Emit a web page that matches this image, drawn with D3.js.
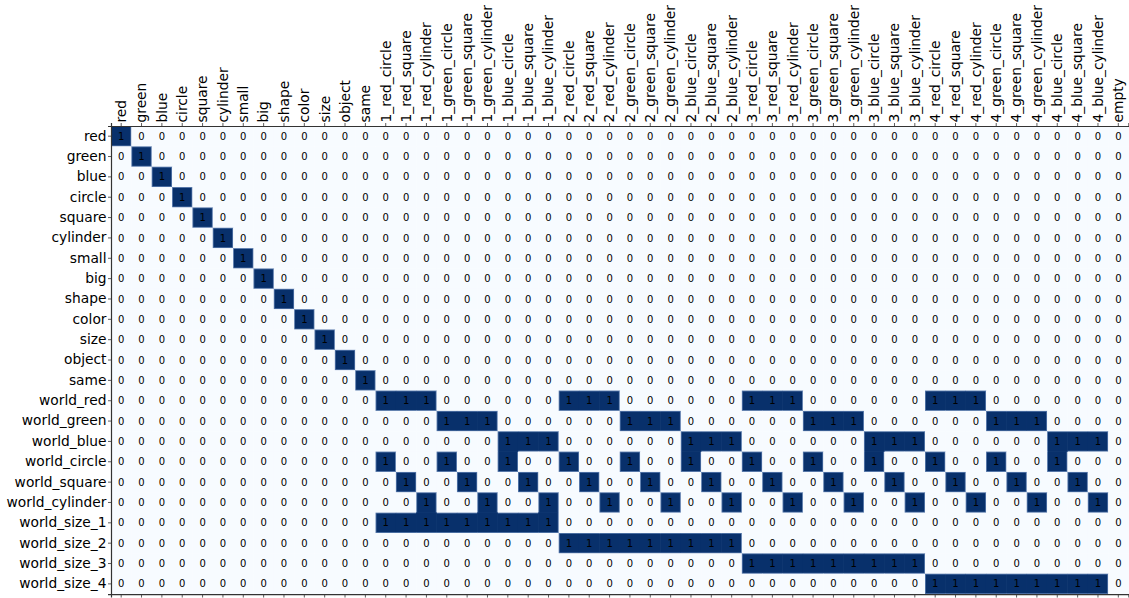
<!DOCTYPE html>
<html>
<head>
<meta charset="utf-8">
<script src="https://cdn.jsdelivr.net/npm/d3@7"></script>
<style>
  html, body { margin: 0; padding: 0; background: #ffffff; }
  svg { display: block; }
  text { font-family: "DejaVu Sans", sans-serif; }
</style>
</head>
<body>
<div id="chart"></div>
<script>
// Row labels (concepts) and column labels (tokens / objects)
const rowLabels = [
  "red", "green", "blue", "circle", "square", "cylinder", "small", "big",
  "shape", "color", "size", "object", "same",
  "world_red", "world_green", "world_blue", "world_circle", "world_square",
  "world_cylinder", "world_size_1", "world_size_2", "world_size_3", "world_size_4"
];

const colLabels = [
  "red", "green", "blue", "circle", "square", "cylinder", "small", "big",
  "shape", "color", "size", "object", "same",
  "1_red_circle", "1_red_square", "1_red_cylinder", "1_green_circle", "1_green_square", "1_green_cylinder", "1_blue_circle", "1_blue_square", "1_blue_cylinder",
  "2_red_circle", "2_red_square", "2_red_cylinder", "2_green_circle", "2_green_square", "2_green_cylinder", "2_blue_circle", "2_blue_square", "2_blue_cylinder",
  "3_red_circle", "3_red_square", "3_red_cylinder", "3_green_circle", "3_green_square", "3_green_cylinder", "3_blue_circle", "3_blue_square", "3_blue_cylinder",
  "4_red_circle", "4_red_square", "4_red_cylinder", "4_green_circle", "4_green_square", "4_green_cylinder", "4_blue_circle", "4_blue_square", "4_blue_cylinder",
  "empty"
];

// Cell values, one string per row; groups: 13 concepts | world 1..4 (9 each) | empty
const matrixRows = [
  "1000000000000 000000000 000000000 000000000 000000000 0",
  "0100000000000 000000000 000000000 000000000 000000000 0",
  "0010000000000 000000000 000000000 000000000 000000000 0",
  "0001000000000 000000000 000000000 000000000 000000000 0",
  "0000100000000 000000000 000000000 000000000 000000000 0",
  "0000010000000 000000000 000000000 000000000 000000000 0",
  "0000001000000 000000000 000000000 000000000 000000000 0",
  "0000000100000 000000000 000000000 000000000 000000000 0",
  "0000000010000 000000000 000000000 000000000 000000000 0",
  "0000000001000 000000000 000000000 000000000 000000000 0",
  "0000000000100 000000000 000000000 000000000 000000000 0",
  "0000000000010 000000000 000000000 000000000 000000000 0",
  "0000000000001 000000000 000000000 000000000 000000000 0",
  "0000000000000 111000000 111000000 111000000 111000000 0",
  "0000000000000 000111000 000111000 000111000 000111000 0",
  "0000000000000 000000111 000000111 000000111 000000111 0",
  "0000000000000 100100100 100100100 100100100 100100100 0",
  "0000000000000 010010010 010010010 010010010 010010010 0",
  "0000000000000 001001001 001001001 001001001 001001001 0",
  "0000000000000 111111111 000000000 000000000 000000000 0",
  "0000000000000 000000000 111111111 000000000 000000000 0",
  "0000000000000 000000000 000000000 111111111 000000000 0",
  "0000000000000 000000000 000000000 000000000 111111111 0"
];

const W = 1129, H = 598;
const plotLeft = 111, plotTop = 126, cell = 20.35;
const plotRight = plotLeft + cell * colLabels.length;
const plotBottom = plotTop + cell * rowLabels.length;
const labelSize = "13.8px";

const values = matrixRows.map(r => r.replace(/\s+/g, "").split("").map(Number));
const cells = [];
values.forEach((row, i) => row.forEach((v, j) => cells.push({ r: i, c: j, v })));

const svg = d3.select("#chart").append("svg")
  .attr("width", W).attr("height", H);

const x = d3.scaleBand().domain(colLabels).range([plotLeft, plotRight]);
const y = d3.scaleBand().domain(rowLabels).range([plotTop, plotBottom]);
const color = d3.scaleLinear().domain([0, 1]).range(["#f7fbff", "#08306b"]);

const isOn = (r, c) => r >= 0 && r < values.length && c >= 0 && c < values[0].length && values[r][c] === 1;

// Base layer: all cells
svg.append("g").selectAll("rect")
  .data(cells)
  .join("rect")
  .attr("x", d => x(colLabels[d.c]))
  .attr("y", d => y(rowLabels[d.r]))
  .attr("width", x.bandwidth() + 0.3)
  .attr("height", y.bandwidth() + 0.3)
  .attr("fill", d => d.v ? "#5375a8" : color(0));

// Dark fill inset along borders with light neighbours, giving the soft edge
const ins = 0.9;
svg.append("g").selectAll("rect")
  .data(cells.filter(d => d.v === 1))
  .join("rect")
  .attr("x", d => x(colLabels[d.c]) + (isOn(d.r, d.c - 1) ? -0.2 : ins))
  .attr("y", d => y(rowLabels[d.r]) + (isOn(d.r - 1, d.c) ? -0.2 : ins))
  .attr("width", d => x.bandwidth() - (isOn(d.r, d.c - 1) ? -0.2 : ins) - (isOn(d.r, d.c + 1) ? -0.2 : ins))
  .attr("height", d => y.bandwidth() - (isOn(d.r - 1, d.c) ? -0.2 : ins) - (isOn(d.r + 1, d.c) ? -0.2 : ins))
  .attr("fill", color(1));

// Value annotations
svg.append("g").selectAll("text")
  .data(cells)
  .join("text")
  .attr("x", d => x(colLabels[d.c]) + x.bandwidth() / 2)
  .attr("y", d => y(rowLabels[d.r]) + y.bandwidth() / 2)
  .attr("dy", "0.36em")
  .attr("text-anchor", "middle")
  .attr("font-size", "10px")
  .attr("fill", "#000")
  .text(d => d.v);

const axisColor = "#333";

// Left axis with row labels
const gy = svg.append("g")
  .attr("transform", `translate(${plotLeft},0)`)
  .call(d3.axisLeft(y).tickSize(3).tickPadding(1.5));
gy.selectAll("text").attr("font-size", labelSize).attr("font-family", "DejaVu Sans").attr("fill", "#000");

// Top axis with rotated column labels
const gx = svg.append("g")
  .attr("transform", `translate(0,${plotTop})`)
  .call(d3.axisTop(x).tickSize(3));
gx.selectAll("text")
  .attr("font-size", labelSize).attr("font-family", "DejaVu Sans").attr("fill", "#000")
  .attr("transform", "rotate(-90)")
  .attr("text-anchor", "start")
  .attr("x", 3.5)
  .attr("y", 0)
  .attr("dy", "0.35em");

// Bottom axis: ticks only
const gb = svg.append("g")
  .attr("transform", `translate(0,${plotBottom})`)
  .call(d3.axisBottom(x).tickSize(3.5).tickFormat(""));

[gy, gx, gb].forEach(g => {
  g.selectAll(".domain").attr("stroke", axisColor).attr("stroke-width", 1.2);
  g.selectAll(".tick line").attr("stroke", axisColor).attr("stroke-width", 0.8);
});
</script>
</body>
</html>
